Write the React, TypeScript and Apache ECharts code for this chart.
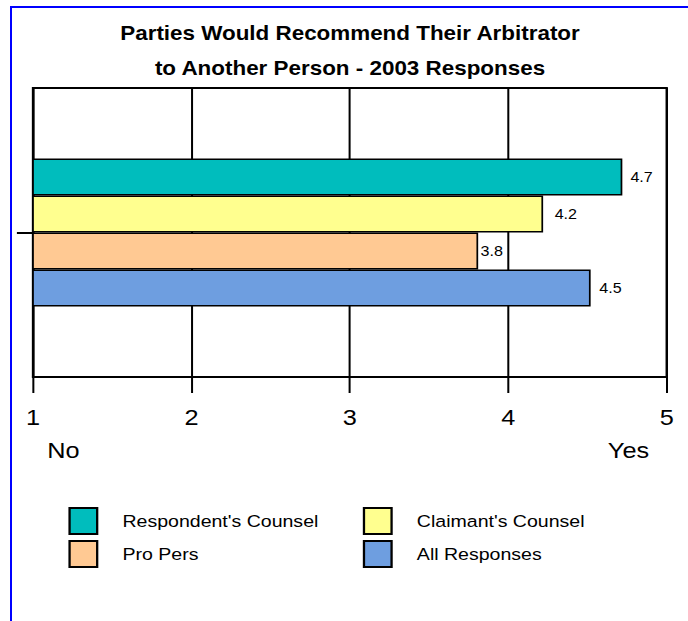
import React, { useEffect, useRef } from "react";
import * as echarts from "echarts";

const titleLines = ["Parties Would Recommend Their Arbitrator", "to Another Person - 2003 Responses"];
const categories = [""];
const seriesNames = ["Respondent's Counsel", "Claimant's Counsel", "Pro Pers", "All Responses"];
const respondentValues = [4.72];
const claimantValues = [4.22];
const proPersValues = [3.81];
const allValues = [4.52];
const xTicks = [1, 2, 3, 4, 5];
const scaleEnds = ["No", "Yes"];

const S = 1.15;
const W = 688;
const H = 621;
const CW = W / S;
const FONT = "'Liberation Sans', Arial, sans-serif";

const colors: Record<string, string> = {
  "Respondent's Counsel": "#00bdbd",
  "Claimant's Counsel": "#ffff8f",
  "Pro Pers": "#ffc993",
  "All Responses": "#6e9ee0",
};
const labelGap: Record<string, number> = {
  "Respondent's Counsel": 7,
  "Claimant's Counsel": 10,
  "Pro Pers": 2,
  "All Responses": 7.5,
};

export default function App() {
  const ref = useRef<HTMLDivElement>(null);
  useEffect(() => {
    if (!ref.current) return;
    const chart = echarts.init(ref.current, undefined, { renderer: "svg" });
    const valuesByName: Record<string, number[]> = {
      "Respondent's Counsel": respondentValues,
      "Claimant's Counsel": claimantValues,
      "Pro Pers": proPersValues,
      "All Responses": allValues,
    };
    const series = seriesNames.map((name) => ({
      name,
      type: "bar",
      data: valuesByName[name],
      barWidth: 37,
      barGap: "0%",
      clip: true,
      itemStyle: { color: colors[name], borderColor: "#000", borderWidth: 1.5 },
      label: {
        show: true,
        position: "right",
        distance: labelGap[name],
        formatter: (p: any) => Number(p.value).toFixed(1),
        fontSize: 14,
        fontFamily: FONT,
        color: "#000",
      },
    }));
    const legendCommon = {
      orient: "vertical",
      top: 507,
      padding: 0,
      itemWidth: 24,
      itemHeight: 26,
      itemGap: 5,
      icon: "rect",
      selectedMode: false,
      itemStyle: { borderColor: "#000", borderWidth: 2 },
      textStyle: { fontSize: 17, fontFamily: FONT, color: "#000", padding: [0, 0, 0, 17] },
    };
    chart.setOption({
      animation: false,
      backgroundColor: "transparent",
      textStyle: { fontFamily: FONT },
      grid: {
        left: 33 / S,
        right: CW - 667 / S,
        top: 88,
        bottom: H - 377,
        show: true,
        borderColor: "#000",
        borderWidth: 2,
        backgroundColor: "transparent",
      },
      xAxis: {
        type: "value",
        min: xTicks[0],
        max: xTicks[xTicks.length - 1],
        interval: 1,
        axisLine: { show: true, lineStyle: { color: "#000", width: 2 } },
        axisTick: { show: true, length: 16, lineStyle: { color: "#000", width: 1.75 } },
        splitLine: { show: true, lineStyle: { color: "#000", width: 1.75 } },
        axisLabel: { fontSize: 22, fontFamily: FONT, color: "#000", margin: 30 },
      },
      yAxis: {
        type: "category",
        data: categories,
        axisLine: { show: true, lineStyle: { color: "#000", width: 1.75 } },
        axisTick: { show: true, alignWithLabel: true, length: 14, lineStyle: { color: "#000", width: 2 } },
        axisLabel: { show: false },
        splitLine: { show: false },
      },
      legend: [
        { ...legendCommon, left: 59.5, data: [seriesNames[0], seriesNames[2]] },
        { ...legendCommon, left: 315.5, data: [seriesNames[1], seriesNames[3]] },
      ],
      graphic: [
        {
          type: "text",
          x: 350 / S,
          y: 16,
          style: {
            text: titleLines.join("\n"),
            textAlign: "center",
            textVerticalAlign: "top",
            fontSize: 19.5,
            fontWeight: "bold",
            fontFamily: FONT,
            lineHeight: 35,
            fill: "#000",
          },
        },
        {
          type: "text",
          x: 63.5 / S,
          y: 451,
          style: {
            text: scaleEnds[0],
            textAlign: "center",
            textVerticalAlign: "middle",
            fontSize: 22,
            fontFamily: FONT,
            fill: "#000",
          },
        },
        {
          type: "text",
          x: 628.5 / S,
          y: 451,
          style: {
            text: scaleEnds[1],
            textAlign: "center",
            textVerticalAlign: "middle",
            fontSize: 22,
            fontFamily: FONT,
            fill: "#000",
          },
        },
      ],
      series,
    });
    return () => chart.dispose();
  }, []);

  return (
    <div style={{ position: "absolute", left: 0, top: 0, width: W, height: H, overflow: "hidden", background: "#fff" }}>
      <div
        ref={ref}
        style={{
          position: "absolute",
          left: 0,
          top: 0,
          width: CW,
          height: H,
          transform: `scaleX(${S})`,
          transformOrigin: "0 0",
        }}
      />
      <div
        style={{
          position: "absolute",
          left: 10,
          top: 6,
          width: W,
          height: H,
          borderLeft: "2px solid #0000ff",
          borderTop: "2px solid #0000ff",
          pointerEvents: "none",
        }}
      />
    </div>
  );
}
